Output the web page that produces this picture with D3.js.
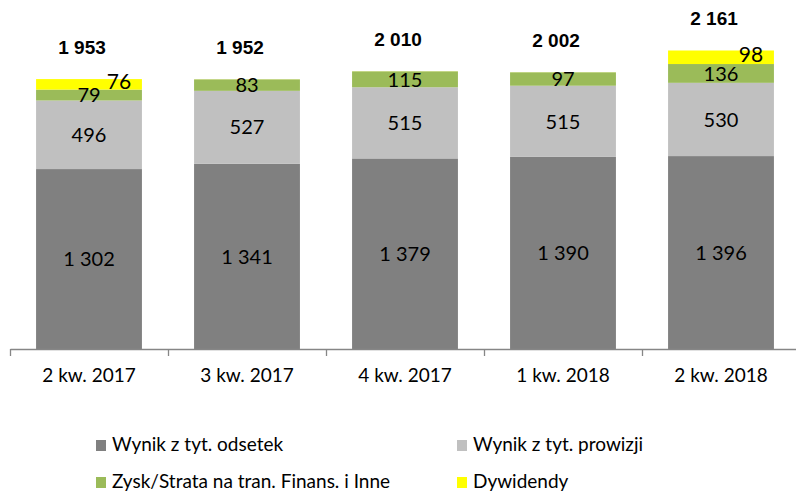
<!DOCTYPE html>
<html>
<head>
<meta charset="utf-8">
<script src="https://cdn.jsdelivr.net/npm/d3@7"></script>
<style>
  body { margin: 0; background: #fff; }
  svg { display: block; }
</style>
</head>
<body>
<script>
// data
const categories = ["2 kw. 2017", "3 kw. 2017", "4 kw. 2017", "1 kw. 2018", "2 kw. 2018"];
const odsetki = [1302, 1341, 1379, 1390, 1396];
const prowizje = [496, 527, 515, 515, 530];
const zyskInne = [79, 83, 115, 97, 136];
const dywidendy = [76, 0.6, 0.6, 0.5, 98];
const totals = ["1 953", "1 952", "2 010", "2 002", "2 161"];

const seriesNames = ["Wynik z tyt. odsetek", "Wynik z tyt. prowizji", "Zysk/Strata na tran. Finans. i Inne", "Dywidendy"];
const seriesColors = ["#808080", "#c0c0c0", "#9bbb59", "#ffff00"];

const w = 796, h = 493;
const fontNum = "Lato, 'Open Sans', sans-serif";

const rows = categories.map((c, i) => ({
  cat: c, s0: odsetki[i], s1: prowizje[i], s2: zyskInne[i], s3: dywidendy[i], total: totals[i]
}));
const keys = ["s0", "s1", "s2", "s3"];
const stacked = d3.stack().keys(keys)(rows);

const svg = d3.select("body").append("svg")
  .attr("width", w)
  .attr("height", h);

const x = d3.scaleBand()
  .domain(categories)
  .range([10, 800])
  .paddingInner(0.33)
  .paddingOuter(0.165);

const y = d3.scaleLinear()
  .domain([0, 2500])
  .range([349, 3.5]);

// bars
svg.append("g").selectAll("g")
  .data(stacked)
  .enter()
  .append("g")
  .attr("fill", (d, i) => seriesColors[i])
  .selectAll("rect")
  .data(d => d)
  .enter()
  .append("rect")
  .attr("x", d => x(d.data.cat))
  .attr("y", d => y(d[1]))
  .attr("width", x.bandwidth())
  .attr("height", d => y(d[0]) - y(d[1]));

// segment labels (dividends sit a little right of centre, as in the original)
stacked.forEach((layer, li) => {
  svg.append("g").selectAll("text")
    .data(layer.filter(d => d[1] - d[0] >= 10))
    .enter()
    .append("text")
    .attr("x", d => x(d.data.cat) + x.bandwidth() / 2 + (li === 3 ? 30 : 0))
    .attr("y", d => (y(d[0]) + y(d[1])) / 2 + (li === 3 ? -3 : 0))
    .attr("dy", "0.36em")
    .attr("text-anchor", "middle")
    .style("font-family", fontNum)
    .style("font-size", li === 3 ? "21px" : "20px")
    .attr("fill", "#000")
    .text(d => d3.format(",")(d[1] - d[0]).replace(/,/g, " "));
});

// totals above bars
svg.append("g").selectAll("text")
  .data(rows)
  .enter()
  .append("text")
  .attr("x", d => x(d.cat) + x.bandwidth() / 2 - 7)
  .attr("y", d => y(d.s0 + d.s1 + d.s2 + d.s3) - 25)
  .attr("text-anchor", "middle")
  .style("font-family", "'Liberation Sans', Arial, sans-serif")
  .style("font-weight", "bold")
  .style("font-size", "19px")
  .attr("fill", "#000")
  .text(d => d.total);

// axis line with ticks between categories
const edges = d3.scaleLinear().domain([0, categories.length]).range([10, 800]);
const tickAxis = svg.append("g")
  .attr("transform", "translate(0," + y(0) + ")")
  .call(d3.axisBottom(edges)
    .tickValues(d3.range(categories.length + 1))
    .tickFormat("")
    .tickSizeInner(7)
    .tickSizeOuter(0));
tickAxis.selectAll("path, line").attr("stroke", "#868686").attr("stroke-width", 1.3);

// category labels
const labelAxis = svg.append("g")
  .attr("transform", "translate(0," + y(0) + ")")
  .call(d3.axisBottom(x).tickSize(0).tickPadding(20));
labelAxis.select(".domain").remove();
labelAxis.selectAll("text")
  .style("font-family", fontNum)
  .style("font-size", "19px")
  .attr("fill", "#000");

// legend, two columns by two rows
const legendPos = [[96, 445], [457, 445], [96, 482], [457, 482]];
const legend = svg.append("g").selectAll("g")
  .data(seriesNames)
  .enter()
  .append("g")
  .attr("transform", (d, i) => "translate(" + legendPos[i][0] + "," + legendPos[i][1] + ")");

legend.append("rect")
  .attr("x", 0)
  .attr("y", -5)
  .attr("width", 10)
  .attr("height", 11)
  .attr("fill", (d, i) => seriesColors[i]);

legend.append("text")
  .attr("x", 16)
  .attr("y", 0)
  .attr("dy", "0.33em")
  .style("font-family", fontNum)
  .style("font-size", "19px")
  .attr("fill", "#000")
  .text(d => d);
</script>
</body>
</html>
